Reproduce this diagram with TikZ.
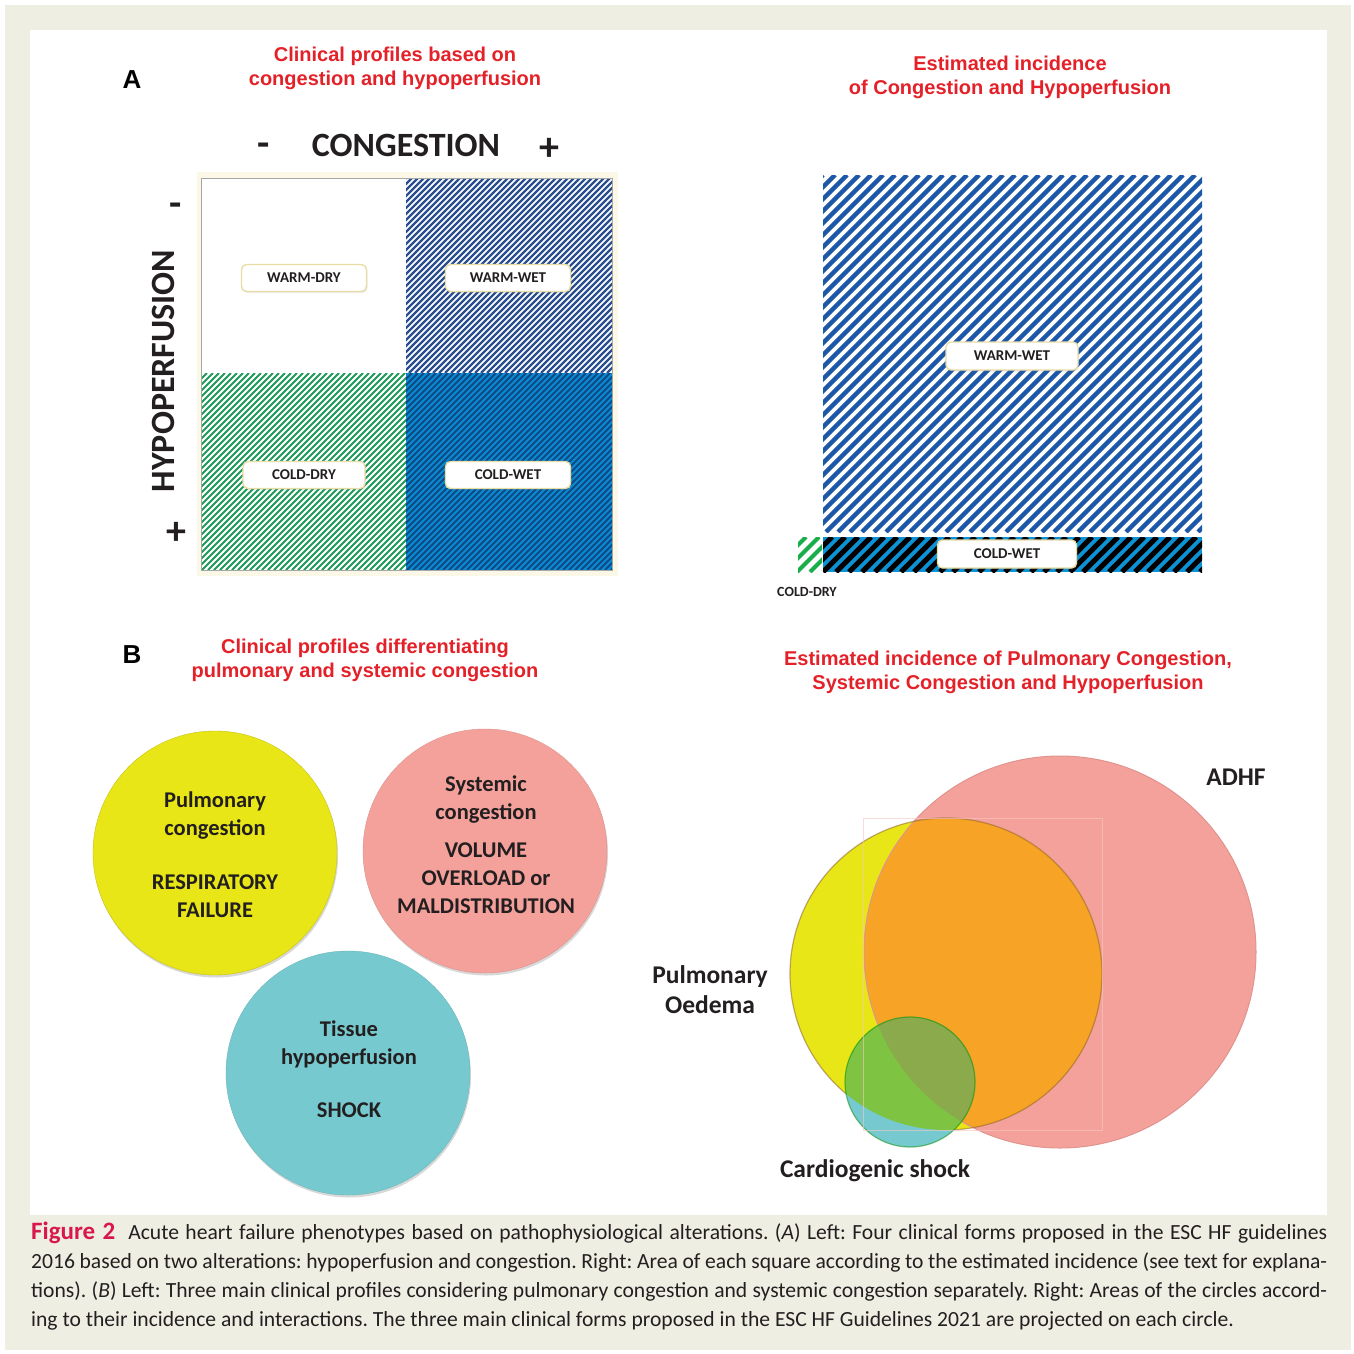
\documentclass[tikz,border=0pt]{standalone}
\usepackage{fontspec}
\setmainfont{Carlito}
\newfontfamily\arialfont{Liberation Sans}
\usetikzlibrary{shadows}
\definecolor{cred}{HTML}{E42128}
\definecolor{cframe}{HTML}{EFEEE3}
\definecolor{cpaper}{HTML}{FBF8E8}
\definecolor{cnavy}{HTML}{2B4F8E}
\definecolor{cgreen}{HTML}{1F9A5B}
\definecolor{cblue}{HTML}{0A8AD2}
\definecolor{cdeep}{HTML}{0E4A84}
\definecolor{cstripe}{HTML}{1D57A8}
\definecolor{cstrip}{HTML}{0B93D6}
\definecolor{cyel}{HTML}{E8E616}
\definecolor{cpink}{HTML}{F4A19B}
\definecolor{ccyan}{HTML}{76CACF}
\definecolor{corange}{HTML}{F7A326}
\definecolor{clime}{HTML}{7FC343}
\definecolor{colive}{HTML}{8BAA4C}
\definecolor{cfig}{HTML}{D8184C}
\definecolor{ctext}{HTML}{231F20}
\definecolor{cgold}{HTML}{E9DDA6}
\frenchspacing

\begin{document}
\begin{tikzpicture}[x=1pt,y=-1pt,
  title/.style={font=\arialfont\bfseries\fontsize{20}{24}\selectfont,text=cred,align=center},
  panel/.style={font=\arialfont\bfseries\fontsize{26}{26}\selectfont},
  axis/.style={font=\bfseries\fontsize{34}{34}\selectfont,text=ctext},
  sign/.style={font=\bfseries\fontsize{40}{40}\selectfont,text=ctext},
  tag/.style={draw=cgold,line width=1.4pt,fill=white,rounded corners=5pt,
    minimum height=27pt,inner sep=0pt,font=\bfseries\fontsize{15}{15}\selectfont,text=ctext,
    drop shadow={opacity=0.15,shadow xshift=1pt,shadow yshift=-1.5pt}},
  ball/.style={circle,minimum size=244pt,inner sep=0pt,
    drop shadow={opacity=0.3,shadow xshift=1pt,shadow yshift=-2.5pt}},
  btext/.style={font=\bfseries\fontsize{22.5}{28}\selectfont,text=ctext,align=center},
  vlabel/.style={font=\bfseries\fontsize{25.5}{30}\selectfont,text=ctext,align=center},
  capline/.style={font=\fontsize{21.6}{29}\selectfont,text=ctext,anchor=base west,inner sep=0pt}]
  \useasboundingbox (0,0) rectangle (1354,1354);
  \fill[white] (0,0) rectangle (1354,1354);
  \fill[cframe] (5,5) rectangle (1351,1350);
  \fill[white] (30,30) rectangle (1327,1215);

  % A, left: four profiles
  \node[panel] (pa) at (132,80) {A};
  \node[title] (ta) at (395,68) {Clinical profiles based on\\congestion and hypoperfusion};
  \node[axis] (cong) at (406,145) {CONGESTION};
  \node[sign] (cminus) at (264,150) {-};
  \node[sign] (cplus) at (549,149) {+};
  \node[axis,rotate=90] (hypo) at (163,371) {HYPOPERFUSION};
  \node[sign] (hminus) at (176,210) {-};
  \node[sign] (hplus) at (176,533) {+};

  \fill[cpaper] (197,172) rectangle (618,576);
  \fill[white] (201,178) rectangle (612,570);
  \begin{scope}
    \clip (406,178) rectangle (612,373);
    \foreach \c in {584,590,...,986}
      \draw[cnavy,line width=2.2pt] (\c-373,373) -- (\c-178,178);
  \end{scope}
  \begin{scope}
    \clip (201,373) rectangle (406,570);
    \foreach \c in {574,580,...,978}
      \draw[cgreen,line width=2pt] (\c-570,570) -- (\c-373,373);
  \end{scope}
  \begin{scope}
    \fill[cblue] (406,373) rectangle (612,570);
    \clip (406,373) rectangle (612,570);
    \foreach \c in {779,785,...,1184}
      \draw[cdeep,line width=1.8pt] (\c-570,570) -- (\c-373,373);
  \end{scope}
  \draw[gray!70,line width=1pt] (201,178) rectangle (612,570);

  \node[tag,minimum width=125pt] (wd) at (304,278) {WARM-DRY};
  \node[tag,minimum width=125pt] (ww) at (508,278) {WARM-WET};
  \node[tag,minimum width=122pt] (cd) at (304,475) {COLD-DRY};
  \node[tag,minimum width=125pt] (cw) at (508,475) {COLD-WET};

  % A, right: areas by incidence
  \node[title] (tb) at (1010,77) {Estimated incidence\\of Congestion and Hypoperfusion};
  \begin{scope}
    \clip (823,175) rectangle (1202,532);
    \foreach \c in {998,1010,...,1740}
      \draw[cstripe,line width=4.5pt] (\c-532,532) -- (\c-175,175);
  \end{scope}
  \begin{scope}
    \fill[cstrip] (823,537) rectangle (1202,572);
    \clip (823,537) rectangle (1202,572);
    \foreach \c in {1356,1369,...,1780}
      \draw[black,line width=5pt] (\c-572,572) -- (\c-537,537);
  \end{scope}
  \begin{scope}
    \clip (798,537) rectangle (822,572);
    \foreach \c in {1330,1343,...,1400}
      \draw[cgreen!80!green,line width=4pt] (\c-572,572) -- (\c-537,537);
  \end{scope}
  \node[tag,minimum width=132pt,minimum height=28pt] (bigww) at (1012,356) {WARM-WET};
  \node[tag,minimum width=139pt,minimum height=28pt] (bigcw) at (1007,554) {COLD-WET};
  \node[font=\bfseries\fontsize{14}{14}\selectfont,text=ctext] (bigcd) at (807,592) {COLD-DRY};

  % B, left: three profiles
  \node[panel] (pb) at (132,655) {B};
  \node[title] (tc) at (365,660) {Clinical profiles differentiating\\pulmonary and systemic congestion};
  \node[ball,fill=cyel,draw=cyel!85!black] (pulm) at (215,853) {};
  \node[ball,fill=cpink,draw=cpink!90!black] (syst) at (485,851) {};
  \node[ball,fill=ccyan,draw=ccyan!90!black] (tiss) at (348,1073) {};
  \node[btext] (pulmt) at (215,855) {Pulmonary\\congestion\\[26pt]RESPIRATORY\\FAILURE};
  \node[btext] (systt) at (486,845) {Systemic\\congestion\\[10pt]VOLUME\\OVERLOAD or\\MALDISTRIBUTION};
  \node[btext] (tisst) at (349,1069) {Tissue\\hypoperfusion\\[25pt]SHOCK};

  % B, right: overlapping incidence
  \node[title] (td) at (1008,672) {Estimated incidence of Pulmonary Congestion,\\Systemic Congestion and Hypoperfusion};
  \fill[cpink] (1060,952) circle (196);
  \fill[cyel] (946,974) circle (156);
  \begin{scope}
    \clip (1060,952) circle (196);
    \fill[corange] (946,974) circle (156);
  \end{scope}
  \draw[cpink!92!black,line width=1pt] (1060,952) circle (196);
  \draw[brown!70!black,line width=1.2pt,opacity=0.5] (946,974) circle (156);
  \fill[ccyan] (910,1082) circle (65);
  \begin{scope}
    \clip (910,1082) circle (65);
    \fill[clime] (946,974) circle (156);
    \clip (1060,952) circle (196);
    \fill[colive] (946,974) circle (156);
  \end{scope}
  \draw[green!55!black,line width=1.2pt,opacity=0.5] (910,1082) circle (65);
  \draw[cpink!60,line width=0.6pt,opacity=0.6] (863,818) rectangle (1102,1130);
  \node[vlabel] (adhf) at (1236,777) {ADHF};
  \node[vlabel] (oed) at (710,990) {Pulmonary\\Oedema};
  \node[vlabel] (shock) at (875,1171) {Cardiogenic shock};

  % caption
  \node[capline] (cap1) at (31,1239) {\hbox to 1296pt{{\fontsize{25}{25}\selectfont\bfseries\color{cfig}Figure 2}\ \ Acute heart failure phenotypes based on pathophysiological alterations. (\textit{A}) Left: Four clinical forms proposed in the ESC HF guidelines}};
  \node[capline] (cap2) at (31,1268) {\hbox to 1296pt{2016 based on two alterations: hypoperfusion and congestion. Right: Area of each square according to the estimated incidence (see text for explana-}};
  \node[capline] (cap3) at (31,1297) {\hbox to 1296pt{tions). (\textit{B}) Left: Three main clinical profiles considering pulmonary congestion and systemic congestion separately. Right: Areas of the circles accord-}};
  \node[capline] (cap4) at (31,1326) {ing to their incidence and interactions. The three main clinical forms proposed in the ESC HF Guidelines 2021 are projected on each circle.};
\end{tikzpicture}
\end{document}
